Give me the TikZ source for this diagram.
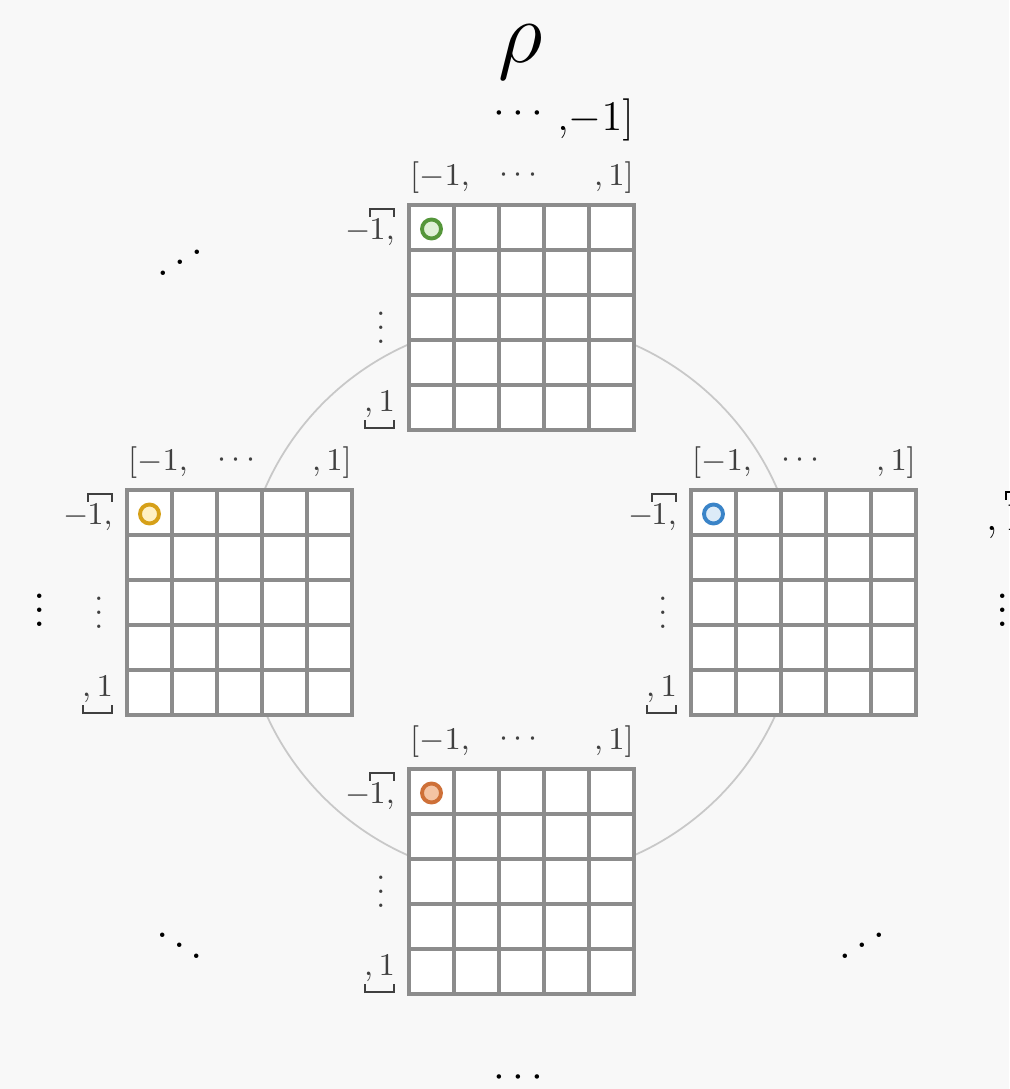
\documentclass[tikz,border=0pt]{standalone}
\usepackage{mathtools}
\usetikzlibrary{positioning}

\definecolor{ringBackground}{RGB}{248,248,248}
\definecolor{ringGridLine}{RGB}{140,140,140}
\definecolor{ringArc}{RGB}{200,200,200}
\definecolor{ringGreen}{RGB}{84,150,58}
\definecolor{ringGreenFill}{RGB}{222,240,214}
\definecolor{ringGold}{RGB}{214,160,24}
\definecolor{ringGoldFill}{RGB}{255,240,196}
\definecolor{ringBlue}{RGB}{58,132,200}
\definecolor{ringBlueFill}{RGB}{220,235,248}
\definecolor{ringOrange}{RGB}{206,112,56}
\definecolor{ringOrangeFill}{RGB}{244,196,164}

\newcommand{\upDots}{\reflectbox{$\ddots$}}

\begin{document}
\begin{tikzpicture}[x=.01cm,y=-.01cm,
      board/.style={draw=ringGridLine, fill=white, line width=1pt,
        minimum size=2.25cm, inner sep=0pt},
      cell/.style={draw=ringGridLine, line width=1pt},
      index/.style={font=\fontsize{9}{10}\selectfont, text=black!75,
        inner sep=1pt},
      outer/.style={font=\fontsize{13}{15}\selectfont, text=black,
        inner sep=1pt},
      marker/.style={line width=1.1pt}]
      \useasboundingbox (0,0) rectangle (1009,1089);
      \fill[ringBackground] (0,0) rectangle (1009,1089);

      % ring behind the boards
      \node[inner sep=0pt] (hub) at (521,600) {};
      \draw[ringArc, line width=.5pt] (hub) circle[radius=2.79cm];

      \node[font=\fontsize{25}{30}\selectfont] (rho) at (521,52) {$\rho$};

      % four boards: name / left / top / marker colours
      \foreach \n/\gx/\gy/\mc/\mf in {
          north/409/205/ringGreen/ringGreenFill,
          west/127/490/ringGold/ringGoldFill,
          east/691/490/ringBlue/ringBlueFill,
          south/409/769/ringOrange/ringOrangeFill}{
        \node[board] (\n) at (\gx+112.5,\gy+112.5) {};
        \foreach \k in {1,...,4}{
          \draw[cell] (\gx+45*\k,\gy) -- (\gx+45*\k,\gy+225);
          \draw[cell] (\gx,\gy+45*\k) -- (\gx+225,\gy+45*\k);}
        \draw[marker, draw=\mc, fill=\mf] (\gx+22.5,\gy+24) circle[radius=.095cm];
        % column indices
        \node[index, anchor=west] (\n-c1) at (\gx-3,\gy-27) {$[-1,$};
        \node[index] (\n-cd) at (\gx+112,\gy-30) {$\cdots$};
        \node[index, anchor=east] (\n-cn) at (\gx+229,\gy-27) {$,1]$};
        % row indices
        \node[index, anchor=east] (\n-r1) at (\gx-10,\gy+22) {${-}\mkern-4mu\overbracket[.5pt][2pt]{1,}$};
        \node[index] (\n-rd) at (\gx-28,\gy+112) {$\vdots$};
        \node[index, anchor=east] (\n-rn) at (\gx-10,\gy+205) {$\underbracket[.5pt][2pt]{,1}$};
      }

      % outer indices
      \node[outer] (top-dots) at (522,114) {$\cdots$};
      \node[outer, anchor=east] (top-last) at (638,120) {$,\!{-}1]$};
      \node[outer] (bottom-dots) at (522,1078) {$\cdots$};
      \node[outer] (left-dots) at (40,600) {$\vdots$};
      \node[outer] (right-dots) at (1003,600) {$\vdots$};
      \node[outer, anchor=west] (right-first) at (982,515) {$,\overbracket[.5pt][2pt]{1}$};
      \node[outer] (nw-dots) at (180,252) {\upDots};
      \node[outer] (sw-dots) at (180,935) {$\ddots$};
      \node[outer] (se-dots) at (862,935) {\upDots};
    \end{tikzpicture}
\end{document}
